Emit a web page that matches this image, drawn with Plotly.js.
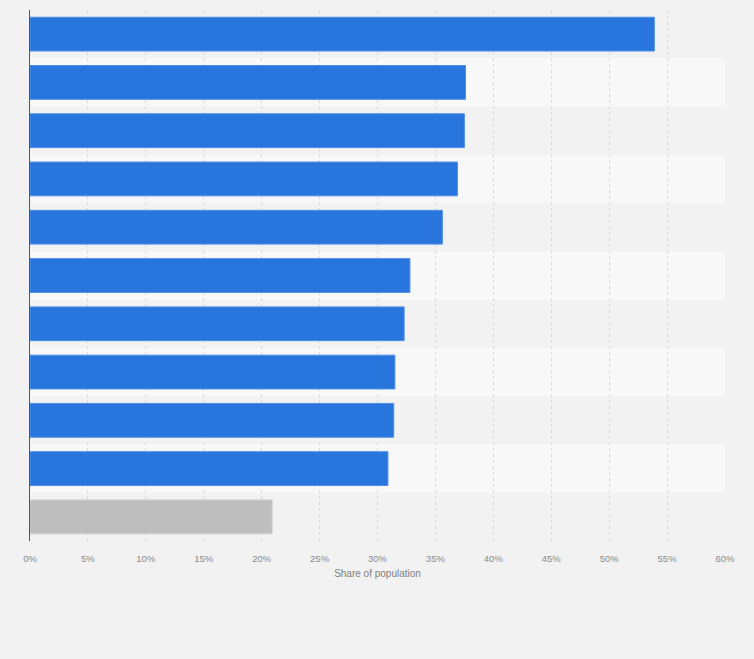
<!DOCTYPE html>
<html>
<head>
<meta charset="utf-8">
<script src="https://cdn.plot.ly/plotly-3.0.1.min.js"></script>
<style>html,body{margin:0;padding:0;background:#f2f2f2;}#chart{width:754px;height:659px;}</style>
</head>
<body>
<div id="chart"></div>
<script>
const categories = ["Item 1","Item 2","Item 3","Item 4","Item 5","Item 6","Item 7","Item 8","Item 9","Item 10","Average"];
const values = [53.9, 37.6, 37.5, 36.9, 35.6, 32.8, 32.3, 31.5, 31.4, 30.9, 20.9];
const barColors = ["#2876dd","#2876dd","#2876dd","#2876dd","#2876dd","#2876dd","#2876dd","#2876dd","#2876dd","#2876dd","#bebebe"];
const lineColors = ["#4d8fe6","#4d8fe6","#4d8fe6","#4d8fe6","#4d8fe6","#4d8fe6","#4d8fe6","#4d8fe6","#4d8fe6","#4d8fe6","#cccccc"];
const tickVals = [0,5,10,15,20,25,30,35,40,45,50,55,60];
const tickText = ["0%","5%","10%","15%","20%","25%","30%","35%","40%","45%","50%","55%","60%"];

const shapes = [];
categories.forEach((c, i) => {
  if (i % 2 === 1) {
    shapes.push({type:'rect', xref:'paper', yref:'y', x0:0, x1:1, y0:i-0.5, y1:i+0.5,
      fillcolor:'#f8f8f8', line:{width:0}, layer:'below'});
  }
});

const trace = {
  type:'bar', orientation:'h',
  y: categories, x: values,
  marker:{color: barColors, line:{color: lineColors, width:1}},
  hoverinfo:'x+y'
};

const layout = {
  width:754, height:659,
  paper_bgcolor:'#f2f2f2', plot_bgcolor:'#f2f2f2',
  margin:{l:30, r:29, t:10, b:118},
  bargap:0.3,
  showlegend:false,
  shapes: shapes,
  font:{family:'"Liberation Sans", Arial, sans-serif'},
  xaxis:{
    range:[0,60], tickvals:tickVals, ticktext:tickText,
    showgrid:true, gridcolor:'#d9d9d9', griddash:'dot', gridwidth:1,
    zeroline:false, showline:false, ticks:'',
    ticklabelstandoff:10,
    tickfont:{size:9.5, color:'#8a8a8a'},
    title:{text:'Share of population', font:{size:10, color:'#808080'}, standoff:7},
    fixedrange:true
  },
  yaxis:{
    autorange:'reversed', showticklabels:false, ticks:'',
    showgrid:false, zeroline:false,
    showline:true, linecolor:'#555555', linewidth:1,
    fixedrange:true
  }
};

Plotly.newPlot('chart', [trace], layout, {displayModeBar:false, staticPlot:true});
</script>
</body>
</html>
